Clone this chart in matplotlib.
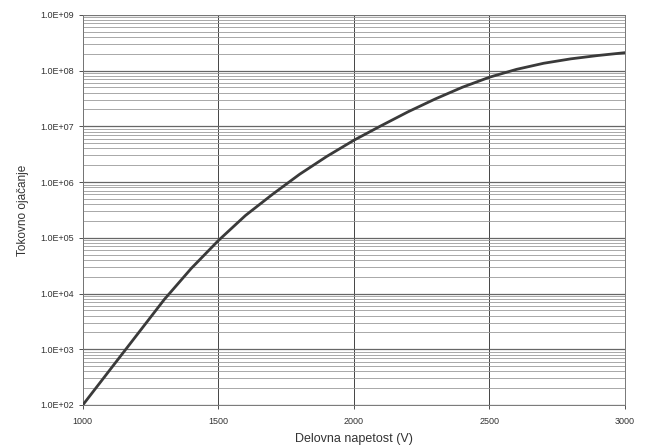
import numpy as np
import matplotlib.pyplot as plt
from matplotlib.ticker import FixedLocator, LogLocator, NullFormatter, FuncFormatter

plt.rcParams["font.family"] = ["Liberation Sans", "DejaVu Sans"]

# ── Data ─────────────────────────────────────────────────────────────────────
napetost = [1000, 1100, 1200, 1300, 1400, 1500, 1600, 1700, 1800, 1900, 2000,
            2100, 2200, 2300, 2400, 2500, 2600, 2700, 2800, 2900, 3000]
ojacanje = [1.0e2, 4.27e2, 1.82e3, 7.76e3, 2.82e4, 8.91e4, 2.51e5, 6.03e5,
            1.38e6, 2.88e6, 5.62e6, 1.02e7, 1.82e7, 3.09e7, 5.01e7, 7.59e7,
            1.05e8, 1.35e8, 1.62e8, 1.86e8, 2.09e8]

x_ticks = [1000, 1500, 2000, 2500, 3000]
y_ticks = [1e2, 1e3, 1e4, 1e5, 1e6, 1e7, 1e8, 1e9]

# ── Figure ───────────────────────────────────────────────────────────────────
fig = plt.figure(figsize=(6.47, 4.48), dpi=100)
ax = fig.add_axes([0.128, 0.096, 0.838, 0.871])

ax.set_yscale("log")
ax.set_xlim(1000, 3000)
ax.set_ylim(1e2, 1e9)

# grid: horizontal major + minor, vertical only at major x
ax.yaxis.set_minor_locator(LogLocator(base=10, subs=np.arange(2, 10)))
ax.yaxis.set_minor_formatter(NullFormatter())
ax.grid(True, which="major", axis="y", color="#666666", lw=0.9)
ax.grid(True, which="minor", axis="y", color="#9a9a9a", lw=0.6)
ax.grid(True, which="major", axis="x", color="#444444", lw=0.7)

ax.plot(napetost, ojacanje, color="#3a3a3a", lw=2.0, zorder=3)

ax.xaxis.set_major_locator(FixedLocator(x_ticks))
ax.yaxis.set_major_locator(FixedLocator(y_ticks))
ax.yaxis.set_major_formatter(
    FuncFormatter(lambda v, _: "1.0E+%02d" % int(round(np.log10(v)))))

ax.tick_params(axis="both", which="major", labelsize=6.5, colors="#333333",
               length=3, width=0.6)
ax.tick_params(axis="y", which="minor", length=0)
ax.tick_params(axis="x", pad=6)

for s in ax.spines.values():
    s.set_color("#777777")
    s.set_linewidth(0.7)

ax.set_xlabel("Delovna napetost (V)", fontsize=9, color="#333333", labelpad=5)
ax.set_ylabel("Tokovno ojačanje", fontsize=8.5, color="#333333", labelpad=8)

fig.savefig("out.png", dpi=100, facecolor="white")
